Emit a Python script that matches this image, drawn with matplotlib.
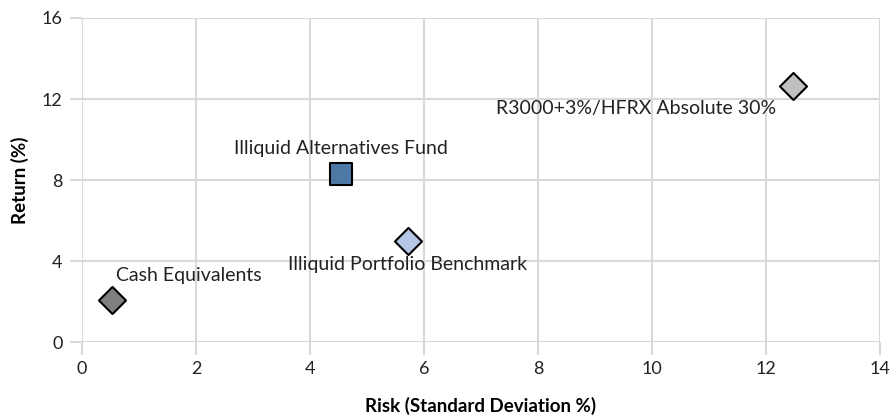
import matplotlib.pyplot as plt

names = ["Cash Equivalents", "Illiquid Alternatives Fund",
         "Illiquid Portfolio Benchmark", "R3000+3%/HFRX Absolute 30%"]
risk = [0.53, 4.54, 5.72, 12.47]
ret = [2.07, 8.30, 4.99, 12.64]
markers = ["D", "s", "D", "D"]
colors = ["#7f7f7f", "#4e79a7", "#b4c7e7", "#c0c0c0"]
sizes = [190, 230, 190, 190]
# label offsets in points and alignment
offsets = [(3, 18), (0, 18), (0, -17), (-12, -16)]
aligns = [("left", "center"), ("center", "center"),
          ("center", "center"), ("right", "center")]

plt.rcParams['font.family'] = ["Lato", "DejaVu Sans"]

fig = plt.figure(figsize=(8.9, 4.15), dpi=100)
ax = fig.add_axes([82 / 890, 1 - 342 / 415, 798 / 890, 324 / 415])

grid_c = "#d9d9d9"
for i in range(len(names)):
    ax.scatter(risk[i], ret[i], marker=markers[i], s=sizes[i], c=colors[i],
               edgecolors="black", linewidths=1.5, zorder=3)
    ax.annotate(names[i], (risk[i], ret[i]), xytext=offsets[i],
                textcoords="offset points", ha=aligns[i][0], va=aligns[i][1],
                fontsize=14, color="#222222", zorder=4)

ax.set_xlim(0, 14)
ax.set_ylim(0, 16)
ax.set_xticks(range(0, 15, 2))
ax.set_yticks(range(0, 17, 4))
ax.grid(True, color=grid_c, linewidth=1.5)
ax.set_axisbelow(True)
for s in ax.spines.values():
    s.set_visible(False)
ax.tick_params(length=9, width=1.5, color=grid_c, labelsize=13,
               labelcolor="#222222", pad=5)
ax.set_xlabel("Risk (Standard Deviation %)", fontsize=13.5, fontweight="bold",
              labelpad=14)
ax.set_ylabel("Return (%)", fontsize=13.5, fontweight="bold", labelpad=9)

fig.savefig("out.png", dpi=100, facecolor="white")
